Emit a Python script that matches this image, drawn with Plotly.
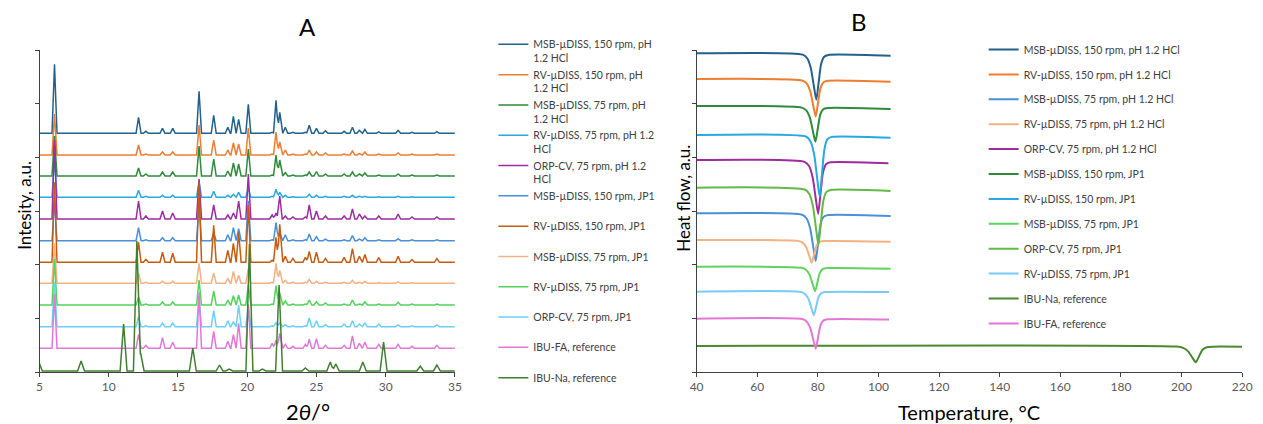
import plotly.graph_objects as go

# ---------------- Panel A: XRD ----------------
XRD_NAMES = [
    "MSB-µDISS, 150 rpm, pH<br>1.2 HCl",
    "RV-µDISS, 150 rpm, pH<br>1.2 HCl",
    "MSB-µDISS, 75 rpm, pH<br>1.2 HCl",
    "RV-µDISS, 75 rpm, pH 1.2<br>HCl",
    "ORP-CV, 75 rpm, pH 1.2<br>HCl",
    "MSB-µDISS, 150 rpm, JP1<br> ",
    "RV-µDISS, 150 rpm, JP1<br> ",
    "MSB-µDISS, 75 rpm, JP1<br> ",
    "RV-µDISS, 75 rpm, JP1<br> ",
    "ORP-CV, 75 rpm, JP1<br> ",
    "IBU-FA, reference<br> ",
    "IBU-Na, reference<br> ",
]
XRD_COLORS = ["#22618c", "#ed7d31", "#2f8a3b", "#29a8e0", "#a02ba0", "#4a90d9",
              "#c55a11", "#f4b183", "#52d35a", "#6dcff6", "#e377d8", "#3f7f2f"]
# vertical offsets of each pattern (a.u.)
XRD_OFFSETS = [238.7, 217, 196, 174.7, 153, 131.3, 109.7, 88.7, 67, 45.3, 23.7, 1]

# ibuprofen (free acid) reflections, 2theta
FA_POS = [6.08, 12.15, 12.68, 13.88, 14.62, 16.52, 17.58, 18.6, 19.0, 19.38, 20.08,
          21.8, 22.08, 22.35, 22.75, 23.3, 24.2, 24.48, 25.0, 25.65, 27.0, 27.6,
          28.1, 28.5, 29.5, 30.9, 31.9, 33.7]
FA_HEIGHTS = [
    [69, 16, 2, 5, 5, 42, 18, 6, 17, 14, 29, 1, 33, 21, 6, 1, 1, 8, 5, 2.5, 2, 6, 3, 4, 1.5, 3, 1, 1.6],
    [41, 10, 1, 3, 3, 30, 15, 5, 12, 11, 27, 1, 23, 13, 5, 1, 1, 5, 3, 2, 1, 4, 1.5, 3, 1, 2, 1, 1],
    [40, 8, 2, 4, 4, 30, 17, 5, 13, 12, 27, 1, 21, 16, 3.5, 1, 1, 4, 4.5, 2, 2, 4, 2, 3, 1, 2, 1, 1],
    [40, 7, 1, 2, 2, 16, 6, 2, 3, 5, 9, 1, 8, 5, 2, 0.5, 0.5, 3, 2, 1, 1, 2, 1, 1, 0.5, 1, 0.5, 0.5],
    [79, 18, 3, 8, 6, 40, 14, 4, 6, 18, 45, 4, 6, 23, 3, 2, 2, 14, 8, 3, 3, 10, 5, 3, 3, 5, 2, 2],
    [40, 13, 1, 3, 3, 35, 8, 6, 13, 12, 40, 1, 18, 8, 6, 1, 1, 6.7, 4, 1.5, 1, 5, 1.5, 3, 1, 2, 1, 1],
    [80, 20, 3, 10, 9, 80, 37, 12, 19, 30, 57, 2, 25, 38, 6, 4, 5, 11, 10, 4, 5, 13.7, 6, 7.7, 4.7, 6, 2.7, 3.7],
    [40, 10, 1, 2, 2, 20, 10, 5, 12, 8, 15, 1, 20, 13, 3, 1, 1, 4, 2, 1, 1, 3, 1, 2, 0.5, 1.5, 0.5, 0.5],
    [46, 8, 1, 3, 3, 25, 14, 5, 9.3, 10, 20, 1, 19.4, 12, 4, 1, 1, 5, 3.3, 2, 1, 5, 1, 3.3, 1, 2.7, 1, 1],
    [45, 10, 1, 3.7, 3.7, 30, 16, 6, 5, 21.7, 20, 1, 4, 3.7, 2, 1, 1, 8.7, 6, 2, 2.7, 6, 2.7, 3.7, 2.7, 1.7, 1, 1.7],
    [54, 14, 3, 10.7, 6, 56, 17, 7, 13.7, 25, 44, 5, 8, 15, 4, 2, 4, 9, 9.7, 3, 3, 12.3, 5, 6, 4, 4, 2, 3],
]
# ibuprofen sodium reference reflections
NA_POS = [4.95, 8.0, 11.07, 12.03, 12.3, 16.07, 18.0, 18.7, 20.16, 21.1, 22.3, 24.2,
          26.0, 26.4, 28.35, 29.85, 32.5, 33.7]
NA_HEIGHTS = [9, 10, 47, 130, 18, 23, 6, 2, 127, 2, 86, 3, 9, 7, 9, 29, 5, 6]

# ---------------- Panel B: DSC ----------------
DSC_NAMES = [
    "MSB-µDISS, 150 rpm, pH 1.2 HCl",
    "RV-µDISS, 150 rpm, pH 1.2 HCl",
    "MSB-µDISS, 75 rpm, pH 1.2 HCl",
    "RV-µDISS, 75 rpm, pH 1.2 HCl",
    "ORP-CV, 75 rpm, pH 1.2 HCl",
    "MSB-µDISS, 150 rpm, JP1",
    "RV-µDISS, 150 rpm, JP1",
    "MSB-µDISS, 75 rpm, JP1",
    "ORP-CV, 75 rpm, JP1",
    "RV-µDISS, 75 rpm, JP1",
    "IBU-Na, reference",
    "IBU-FA, reference",
]
DSC_COLORS = ["#22618c", "#ed7d31", "#4a90d9", "#f4b183", "#a02ba0", "#2f8a3b",
              "#29a8e0", "#5fd35f", "#62b946", "#77ccf5", "#4a8a2e", "#e377d8"]
DSC_BASE = [318.7, 293, 158.7, 132, 212, 266, 237, 105.3, 184.3, 80.3, 26, 53.3]
DSC_PEAK_T = [79.5, 79.3, 79.3, 78.0, 80.1, 79.2, 80.6, 79.1, 80.2, 78.7, 204.7, 79.3]
DSC_DEPTH = [45, 36, 46, 21.7, 51.7, 34, 60, 23.3, 55.6, 23.3, 15.7, 29.6]
DSC_DRIFT = [2.4, 2.7, 2.7, 1.7, 3.3, 3, 2.7, 2, 3.3, 0.3, 0.7, 0.7]
DSC_T_START = [40] * 12
DSC_T_END = [104, 104, 104, 104, 103.3, 104, 104, 104, 104, 103.5, 220, 103.5]

# endotherm outline used for every melting peak (relative temperature, fraction of depth)
ENDO_DT = [-4.5, -3.0, -1.8, -0.8, 0, 0.8, 1.6, 2.6, 4.0]
ENDO_F = [0, 0.08, 0.3, 0.7, 1, 0.6, 0.2, 0.04, 0]


def xrd_profile(pos, hts, hw, offset, x0=5.0, x1=35.0):
    xs = {x0, x1}
    for p in pos:
        xs.update([p - hw, p, p + hw])
    xs = sorted(x for x in xs if x0 <= x <= x1)
    ys = [offset + sum(h * max(0.0, 1 - abs(x - p) / hw) for p, h in zip(pos, hts)) for x in xs]
    return xs, ys


def dsc_profile(t0, t1, base, drift, tp, depth, scale):
    xs = [t0] + [tp + d * scale for d in ENDO_DT] + [t1]
    fr = [0] + ENDO_F + [0]
    ys = [base - drift * (x - t0) / (t1 - t0) - depth * f for x, f in zip(xs, fr)]
    return xs, ys


fig = go.Figure()

for i, name in enumerate(XRD_NAMES):
    if i < len(FA_HEIGHTS):
        xs, ys = xrd_profile(FA_POS, FA_HEIGHTS[i], 0.18, XRD_OFFSETS[i])
    else:
        xs, ys = xrd_profile(NA_POS, NA_HEIGHTS, 0.25, XRD_OFFSETS[i])
    fig.add_trace(go.Scatter(x=xs, y=ys, mode="lines", name=name,
                             line=dict(color=XRD_COLORS[i], width=1.5),
                             xaxis="x", yaxis="y", legend="legend"))

for i, name in enumerate(DSC_NAMES):
    sc = 1.4 if DSC_PEAK_T[i] > 150 else 1.0
    xs, ys = dsc_profile(DSC_T_START[i], DSC_T_END[i], DSC_BASE[i], DSC_DRIFT[i],
                         DSC_PEAK_T[i], DSC_DEPTH[i], sc)
    fig.add_trace(go.Scatter(x=xs, y=ys, mode="lines", name=name,
                             line=dict(color=DSC_COLORS[i], width=2, shape="spline", smoothing=0.6),
                             xaxis="x2", yaxis="y2", legend="legend2", legendgroup=f"b{i}"))

W, H = 1263, 424
FONT = "Lato, 'Open Sans', sans-serif"
ytop, ybot = 50, 372
ydom = [(H - ybot) / H, (H - ytop) / H]
yticks = [k * 322 / 6 for k in range(7)]
axis_common = dict(showline=True, linecolor="#404040", linewidth=1, ticks="outside",
                   tickcolor="#404040", ticklen=4, showgrid=False, zeroline=False,
                   tickfont=dict(family=FONT, size=12, color="#595959"))

fig.update_layout(
    width=W, height=H, margin=dict(l=0, r=0, t=0, b=0),
    paper_bgcolor="white", plot_bgcolor="white",
    font=dict(family=FONT, color="#404040"),
    xaxis=dict(domain=[33 / W, 454 / W], range=[5, 35], tickvals=[5, 10, 15, 20, 25, 30, 35],
               anchor="y", **axis_common),
    yaxis=dict(domain=ydom, range=[0, 322], tickvals=yticks, showticklabels=False,
               anchor="x", **axis_common),
    xaxis2=dict(domain=[699 / W, 1252 / W], range=[40, 220], tickvals=list(range(40, 221, 20)),
                anchor="y2", **axis_common),
    yaxis2=dict(domain=ydom, range=[0, 322], tickvals=yticks, showticklabels=False,
                anchor="x2", **axis_common),
    legend=dict(x=493 / W, xanchor="left", y=(H - 31) / H, yanchor="top",
                font=dict(family=FONT, size=10.5, color="#404040"),
                bgcolor="rgba(0,0,0,0)", valign="top", tracegroupgap=0),
    legend2=dict(x=990 / W, xanchor="left", y=(H - 35) / H, yanchor="top",
                 font=dict(family=FONT, size=10.5, color="#404040"),
                 bgcolor="rgba(0,0,0,0)", tracegroupgap=5.9),
    showlegend=True,
)

ann = [
    dict(text="A", x=305 / W, y=(H - 26) / H, size=24, angle=0),
    dict(text="B", x=864 / W, y=(H - 21) / H, size=24, angle=0),
    dict(text="2<i>θ</i>/°", x=305 / W, y=(H - 411) / H, size=22, angle=0),
    dict(text="Intesity, a.u.", x=17 / W, y=(H - 205) / H, size=17, angle=-90),
    dict(text="Temperature, °C", x=975 / W, y=(H - 412) / H, size=20, angle=0),
    dict(text="Heat flow, a.u.", x=686 / W, y=(H - 198) / H, size=17, angle=-90),
]
for a in ann:
    fig.add_annotation(text=a["text"], x=a["x"], y=a["y"], xref="paper", yref="paper",
                       xanchor="center", yanchor="middle", showarrow=False, textangle=a["angle"],
                       font=dict(family=FONT, size=a["size"], color="#000000"))

fig.write_html("out.html", config={"displayModeBar": False},
               post_script="document.body.style.margin='0';document.body.style.overflow='hidden';")
